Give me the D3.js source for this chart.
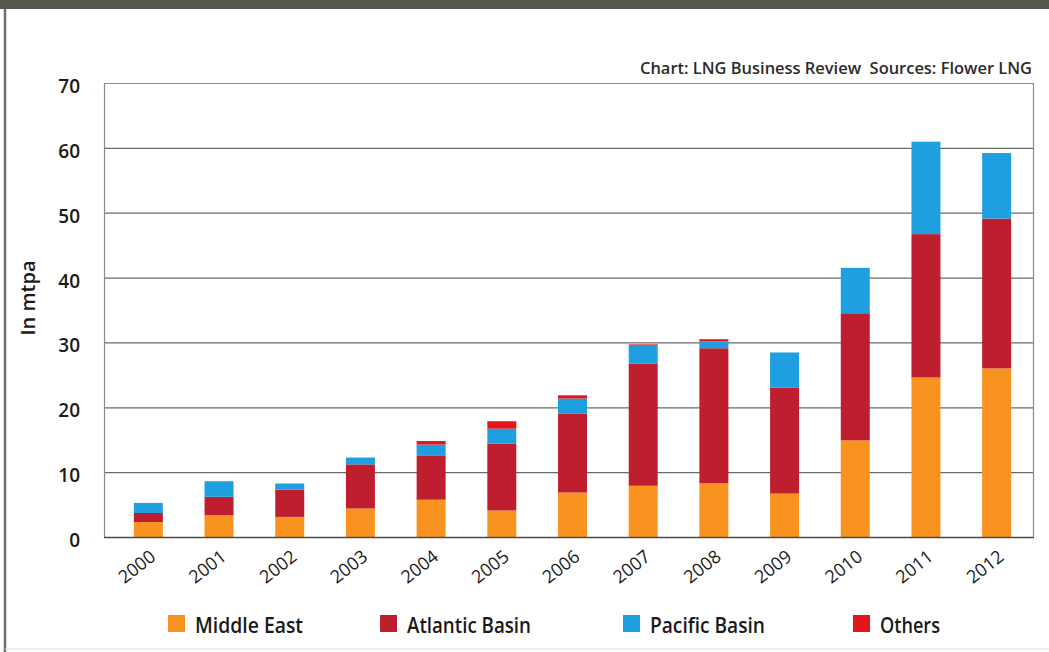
<!DOCTYPE html>
<html>
<head>
<meta charset="utf-8">
<script src="https://cdn.jsdelivr.net/npm/d3@7"></script>
<style>
  body { margin: 0; background: #fff; }
  svg { display: block; }
  text { white-space: pre; }
</style>
</head>
<body>
<div id="chart"></div>
<script>
// Data (mtpa)
var years = ["2000", "2001", "2002", "2003", "2004", "2005", "2006", "2007", "2008", "2009", "2010", "2011", "2012"];
var middleEast = [2.3, 3.35, 3.1, 4.4, 5.75, 4.1, 6.85, 7.9, 8.3, 6.7, 14.9, 24.6, 26.0];
var atlanticBasin = [1.4, 2.85, 4.2, 6.8, 6.75, 10.3, 12.2, 18.85, 20.8, 16.35, 19.6, 22.1, 23.1];
var pacificBasin = [1.55, 2.4, 0.95, 1.05, 1.75, 2.3, 2.3, 2.75, 1.1, 5.4, 7.0, 14.25, 10.1];
var others = [0, 0, 0, 0, 0.55, 1.15, 0.5, 0.2, 0.3, 0, 0, 0, 0];
var seriesNames = ["Middle East", "Atlantic Basin", "Pacific Basin", "Others"];
var yTicks = [0, 10, 20, 30, 40, 50, 60, 70];
var sourceText = "Chart: LNG Business Review  Sources: Flower LNG";
var yLabel = "In mtpa";

var svgWidth = 1049;
var svgHeight = 652;

var colors = ["#f7931e", "#be1e2d", "#1e9fdf", "#e3161d"];

var svg = d3.select("#chart")
  .append("svg")
  .attr("width", svgWidth)
  .attr("height", svgHeight);

svg.append("rect")
  .attr("width", svgWidth)
  .attr("height", svgHeight)
  .attr("fill", "#fff");

// header strip and left border of the box
svg.append("rect")
  .attr("x", 0).attr("y", 0)
  .attr("width", svgWidth).attr("height", 9)
  .attr("fill", "#57574f");

svg.append("line")
  .attr("x1", 5).attr("x2", 5)
  .attr("y1", 9).attr("y2", svgHeight)
  .attr("stroke", "#6e6e6e")
  .attr("stroke-width", 2.5);

svg.append("line")
  .attr("x1", 5).attr("x2", svgWidth)
  .attr("y1", 649).attr("y2", 649)
  .attr("stroke", "#e2e2e2")
  .attr("stroke-width", 1);

// plot frame
var plotLeft = 104, plotRight = 1033, plotTop = 83, plotBottom = 537;

var table = years.map(function(y, i) {
  return {
    year: y,
    "Middle East": middleEast[i],
    "Atlantic Basin": atlanticBasin[i],
    "Pacific Basin": pacificBasin[i],
    "Others": others[i]
  };
});

var stacked = d3.stack().keys(seriesNames)(table);

var xScale = d3.scaleBand()
  .domain(years)
  .range([113, 1032])
  .paddingInner(0.59)
  .paddingOuter(0.295);

var yScale = d3.scaleLinear()
  .domain([0, 70])
  .range([plotBottom, plotTop]);

// gridlines
svg.append("g")
  .selectAll("line")
  .data(yTicks.filter(function(t) { return t > 0; }))
  .enter()
  .append("line")
  .attr("x1", plotLeft)
  .attr("x2", plotRight)
  .attr("y1", function(d) { return yScale(d) + 0.5; })
  .attr("y2", function(d) { return yScale(d) + 0.5; })
  .attr("stroke", function(d) { return d === 70 ? "#8a8a8a" : "#6a6a6a"; })
  .attr("stroke-width", 1.2);

svg.append("line")
  .attr("x1", plotLeft + 0.5).attr("x2", plotLeft + 0.5)
  .attr("y1", plotTop).attr("y2", plotBottom)
  .attr("stroke", "#8a8a8a").attr("stroke-width", 1.2);

svg.append("line")
  .attr("x1", plotRight + 0.5).attr("x2", plotRight + 0.5)
  .attr("y1", plotTop).attr("y2", plotBottom)
  .attr("stroke", "#8a8a8a").attr("stroke-width", 1.2);

// bars
svg.append("g")
  .selectAll("g")
  .data(stacked)
  .enter()
  .append("g")
  .attr("fill", function(d, i) { return colors[i]; })
  .selectAll("rect")
  .data(function(d) { return d; })
  .enter()
  .append("rect")
  .attr("x", function(d) { return xScale(d.data.year); })
  .attr("width", xScale.bandwidth())
  .attr("y", function(d) { return yScale(d[1]); })
  .attr("height", function(d) { return yScale(d[0]) - yScale(d[1]); });

// bottom axis line
svg.append("line")
  .attr("x1", plotLeft).attr("x2", plotRight + 1)
  .attr("y1", plotBottom + 0.5).attr("y2", plotBottom + 0.5)
  .attr("stroke", "#4a4a4a").attr("stroke-width", 1.5);

// y tick labels
svg.append("g")
  .selectAll("text")
  .data(yTicks)
  .enter()
  .append("text")
  .attr("x", 80)
  .attr("y", function(d) { return yScale(d) + 10; })
  .attr("text-anchor", "end")
  .attr("font-family", "'Open Sans', sans-serif")
  .attr("font-size", 19)
  .attr("font-weight", 600)
  .attr("fill", "#1a1a1a")
  .text(function(d) { return d; });

// x tick labels
svg.append("g")
  .selectAll("text")
  .data(years)
  .enter()
  .append("text")
  .attr("transform", function(d) {
    return "translate(" + (xScale(d) + xScale.bandwidth() / 2 + 8.5) + ",559) rotate(-38)";
  })
  .attr("text-anchor", "end")
  .attr("font-family", "'Open Sans', sans-serif")
  .attr("font-size", 18)
  .attr("font-weight", 500)
  .attr("fill", "#1a1a1a")
  .text(function(d) { return d; });

// axis title
svg.append("text")
  .attr("transform", "translate(35,298) rotate(-90)")
  .attr("text-anchor", "middle")
  .attr("font-family", "'Open Sans', sans-serif")
  .attr("font-size", 20)
  .attr("font-weight", 600)
  .attr("fill", "#1a1a1a")
  .text(yLabel);

// source line (condensed face squeezed to its width)
svg.append("text")
  .attr("x", 640)
  .attr("y", 74)
  .attr("textLength", 392)
  .attr("lengthAdjust", "spacingAndGlyphs")
  .attr("font-family", "'Open Sans', sans-serif")
  .attr("font-size", 17)
  .attr("font-weight", 600)
  .attr("fill", "#2b2b2b")
  .text(sourceText);

// legend
var legendX = [168, 380, 623, 853];
var legendWidth = [108, 124, 115, 60];
var legend = svg.append("g")
  .selectAll("g")
  .data(seriesNames)
  .enter()
  .append("g")
  .attr("transform", function(d, i) { return "translate(" + legendX[i] + ",615)"; });

legend.append("rect")
  .attr("width", 17)
  .attr("height", 17)
  .attr("fill", function(d, i) { return colors[i]; });

legend.append("text")
  .attr("x", 27)
  .attr("y", 18)
  .attr("textLength", function(d, i) { return legendWidth[i]; })
  .attr("lengthAdjust", "spacingAndGlyphs")
  .attr("font-family", "'Open Sans', sans-serif")
  .attr("font-size", 22)
  .attr("font-weight", 600)
  .attr("fill", "#1a1a1a")
  .text(function(d) { return d; });
</script>
</body>
</html>
